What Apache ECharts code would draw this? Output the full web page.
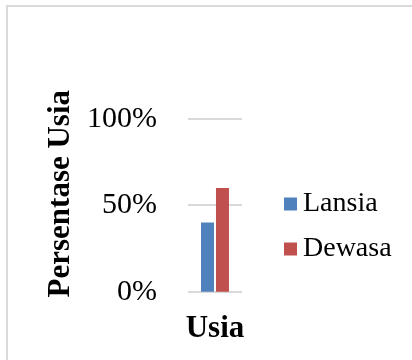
<!DOCTYPE html>
<html>
<head>
<meta charset="utf-8">
<script src="https://cdn.jsdelivr.net/npm/echarts@6/dist/echarts.min.js"></script>
<style>
  html, body { margin: 0; padding: 0; background: #fff; }
  #wrap { position: relative; width: 412px; height: 360px; overflow: hidden; }
  #frame { position: absolute; left: 6px; top: 5px; width: 420px; height: 380px;
           border-left: 2px solid #d9d9d9; border-top: 2px solid #d9d9d9; box-sizing: border-box; }
  #chart { position: absolute; left: 0; top: 0; width: 412px; height: 360px; }
</style>
</head>
<body>
<div id="wrap">
  <div id="frame"></div>
  <div id="chart"></div>
</div>
<script>
// Age group shares (percent)
const categories = ['Usia'];
const seriesNames = ['Lansia', 'Dewasa'];
const lansiaValues = [40];
const dewasaValues = [60];
const yTicks = [0, 50, 100];

const serif = '"Liberation Serif", "Times New Roman", serif';
const colors = ['#4f81bd', '#c0504d'];

const chart = echarts.init(document.getElementById('chart'), null, { renderer: 'canvas' });
chart.setOption({
  animation: false,
  backgroundColor: 'transparent',
  grid: { left: 188, right: 170, top: 118.7, bottom: 68.3, containLabel: false },
  legend: {
    orient: 'vertical',
    left: 279,
    top: 185,
    itemWidth: 13,
    itemHeight: 13,
    itemGap: 17,
    icon: 'rect',
    data: seriesNames,
    textStyle: { fontFamily: serif, fontSize: 28, color: '#000', padding: [0, 0, 0, 1] }
  },
  xAxis: {
    type: 'category',
    data: categories,
    axisLine: { show: false },
    axisTick: { show: false },
    axisLabel: { fontFamily: serif, fontSize: 31, fontWeight: 'bold', color: '#000', margin: 22 }
  },
  yAxis: {
    type: 'value',
    min: yTicks[0],
    max: yTicks[yTicks.length - 1],
    interval: yTicks[1] - yTicks[0],
    name: 'Persentase Usia',
    nameLocation: 'middle',
    nameGap: 112,
    nameTextStyle: { fontFamily: serif, fontSize: 31, fontWeight: 'bold', color: '#000', padding: [0, 0, 0, 23] },
    axisLine: { show: false },
    axisTick: { show: false },
    axisLabel: { fontFamily: serif, fontSize: 30, color: '#000', margin: 31, formatter: v => v + '%' },
    splitLine: { lineStyle: { color: '#d9d9d9', width: 2 } }
  },
  series: [
    { name: seriesNames[0], type: 'bar', data: lansiaValues, barWidth: 13, barGap: '15%', itemStyle: { color: colors[0] } },
    { name: seriesNames[1], type: 'bar', data: dewasaValues, barWidth: 13, barGap: '15%', itemStyle: { color: colors[1] } }
  ]
});
</script>
</body>
</html>
